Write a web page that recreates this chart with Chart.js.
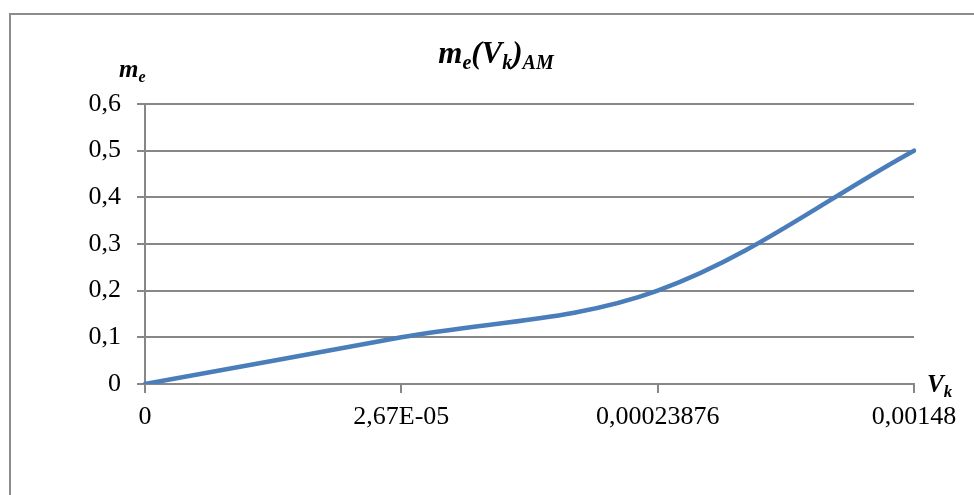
<!DOCTYPE html>
<html>
<head>
<meta charset="utf-8">
<script src="https://cdn.jsdelivr.net/npm/chart.js@4/dist/chart.umd.min.js"></script>
<style>
  html, body { margin: 0; padding: 0; background: #fff; }
  #wrap { width: 974px; height: 495px; }
</style>
</head>
<body>
<div id="wrap"><canvas id="chart" width="974" height="495"></canvas></div>
<script>
// m_e(V_k) for AM
const vkLabels = ['0', '2,67E-05', '0,00023876', '0,00148'];
const meValues = [0, 0.1, 0.2, 0.5];
const yTicks   = [0, 0.1, 0.2, 0.3, 0.4, 0.5, 0.6];

const SERIF = "'Liberation Serif', 'Times New Roman', serif";
const GRID  = '#878787';
const LINE  = '#4A7EBB';

// draw a run of [text, isSub] pieces in bold italic
function richText(ctx, parts, x, y, size, subSize, align, drop) {
  const fonts = parts.map(p => `italic bold ${p[1] ? subSize : size}px ${SERIF}`);
  let total = 0;
  parts.forEach((p, i) => { ctx.font = fonts[i]; total += ctx.measureText(p[0]).width; });
  let cx = align === 'center' ? x - total / 2 : x;
  parts.forEach((p, i) => {
    ctx.font = fonts[i];
    ctx.fillText(p[0], cx, p[1] ? y + drop : y);
    cx += ctx.measureText(p[0]).width;
  });
}

const decor = {
  id: 'decor',
  afterDraw(chart) {
    const ctx = chart.ctx;
    ctx.save();
    // outer chart frame (cut off on right and bottom)
    ctx.strokeStyle = '#8C8C8C';
    ctx.lineWidth = 2;
    ctx.strokeRect(10, 14, 1000, 520);
    ctx.fillStyle = '#000';
    ctx.textBaseline = 'alphabetic';
    ctx.textAlign = 'left';
    richText(ctx, [['m', false], ['e', true], ['(V', false], ['k', true], [')', false], ['AM', true]],
      496, 63, 31, 20, 'center', 6);
    richText(ctx, [['m', false], ['e', true]], 119, 77, 25, 16, 'left', 5);
    richText(ctx, [['V', false], ['k', true]], 927, 392, 25, 17, 'left', 5);
    ctx.restore();
  }
};

new Chart(document.getElementById('chart'), {
  type: 'line',
  data: {
    labels: vkLabels,
    datasets: [{
      data: meValues,
      borderColor: LINE,
      borderWidth: 4.5,
      tension: 0.35,
      pointRadius: 0,
      fill: false,
      borderCapStyle: 'round',
    }],
  },
  options: {
    responsive: false,
    animation: false,
    layout: { padding: { left: 0, right: 60, top: 104, bottom: 0 } },
    plugins: {
      legend: { display: false },
      tooltip: { enabled: false },
    },
    scales: {
      x: {
        type: 'category',
        offset: false,
        afterFit: s => { s.height = 111; },
        grid: { drawOnChartArea: false, drawTicks: true, tickLength: 9, color: GRID, lineWidth: 2 },
        border: { color: GRID, width: 2 },
        ticks: { color: '#000', font: { family: SERIF, size: 26 }, padding: 9, maxRotation: 0, autoSkip: false },
      },
      y: {
        min: 0,
        max: 0.6,
        afterFit: s => { s.width = 145; },
        afterBuildTicks: s => { s.ticks = yTicks.map(v => ({ value: v })); },
        grid: { color: GRID, lineWidth: 2, tickLength: 8 },
        border: { color: GRID, width: 2 },
        ticks: {
          color: '#000',
          font: { family: SERIF, size: 26 },
          padding: 16,
          callback: v => v === 0 ? '0' : v.toFixed(1).replace('.', ','),
        },
      },
    },
  },
  plugins: [decor],
});
</script>
</body>
</html>
